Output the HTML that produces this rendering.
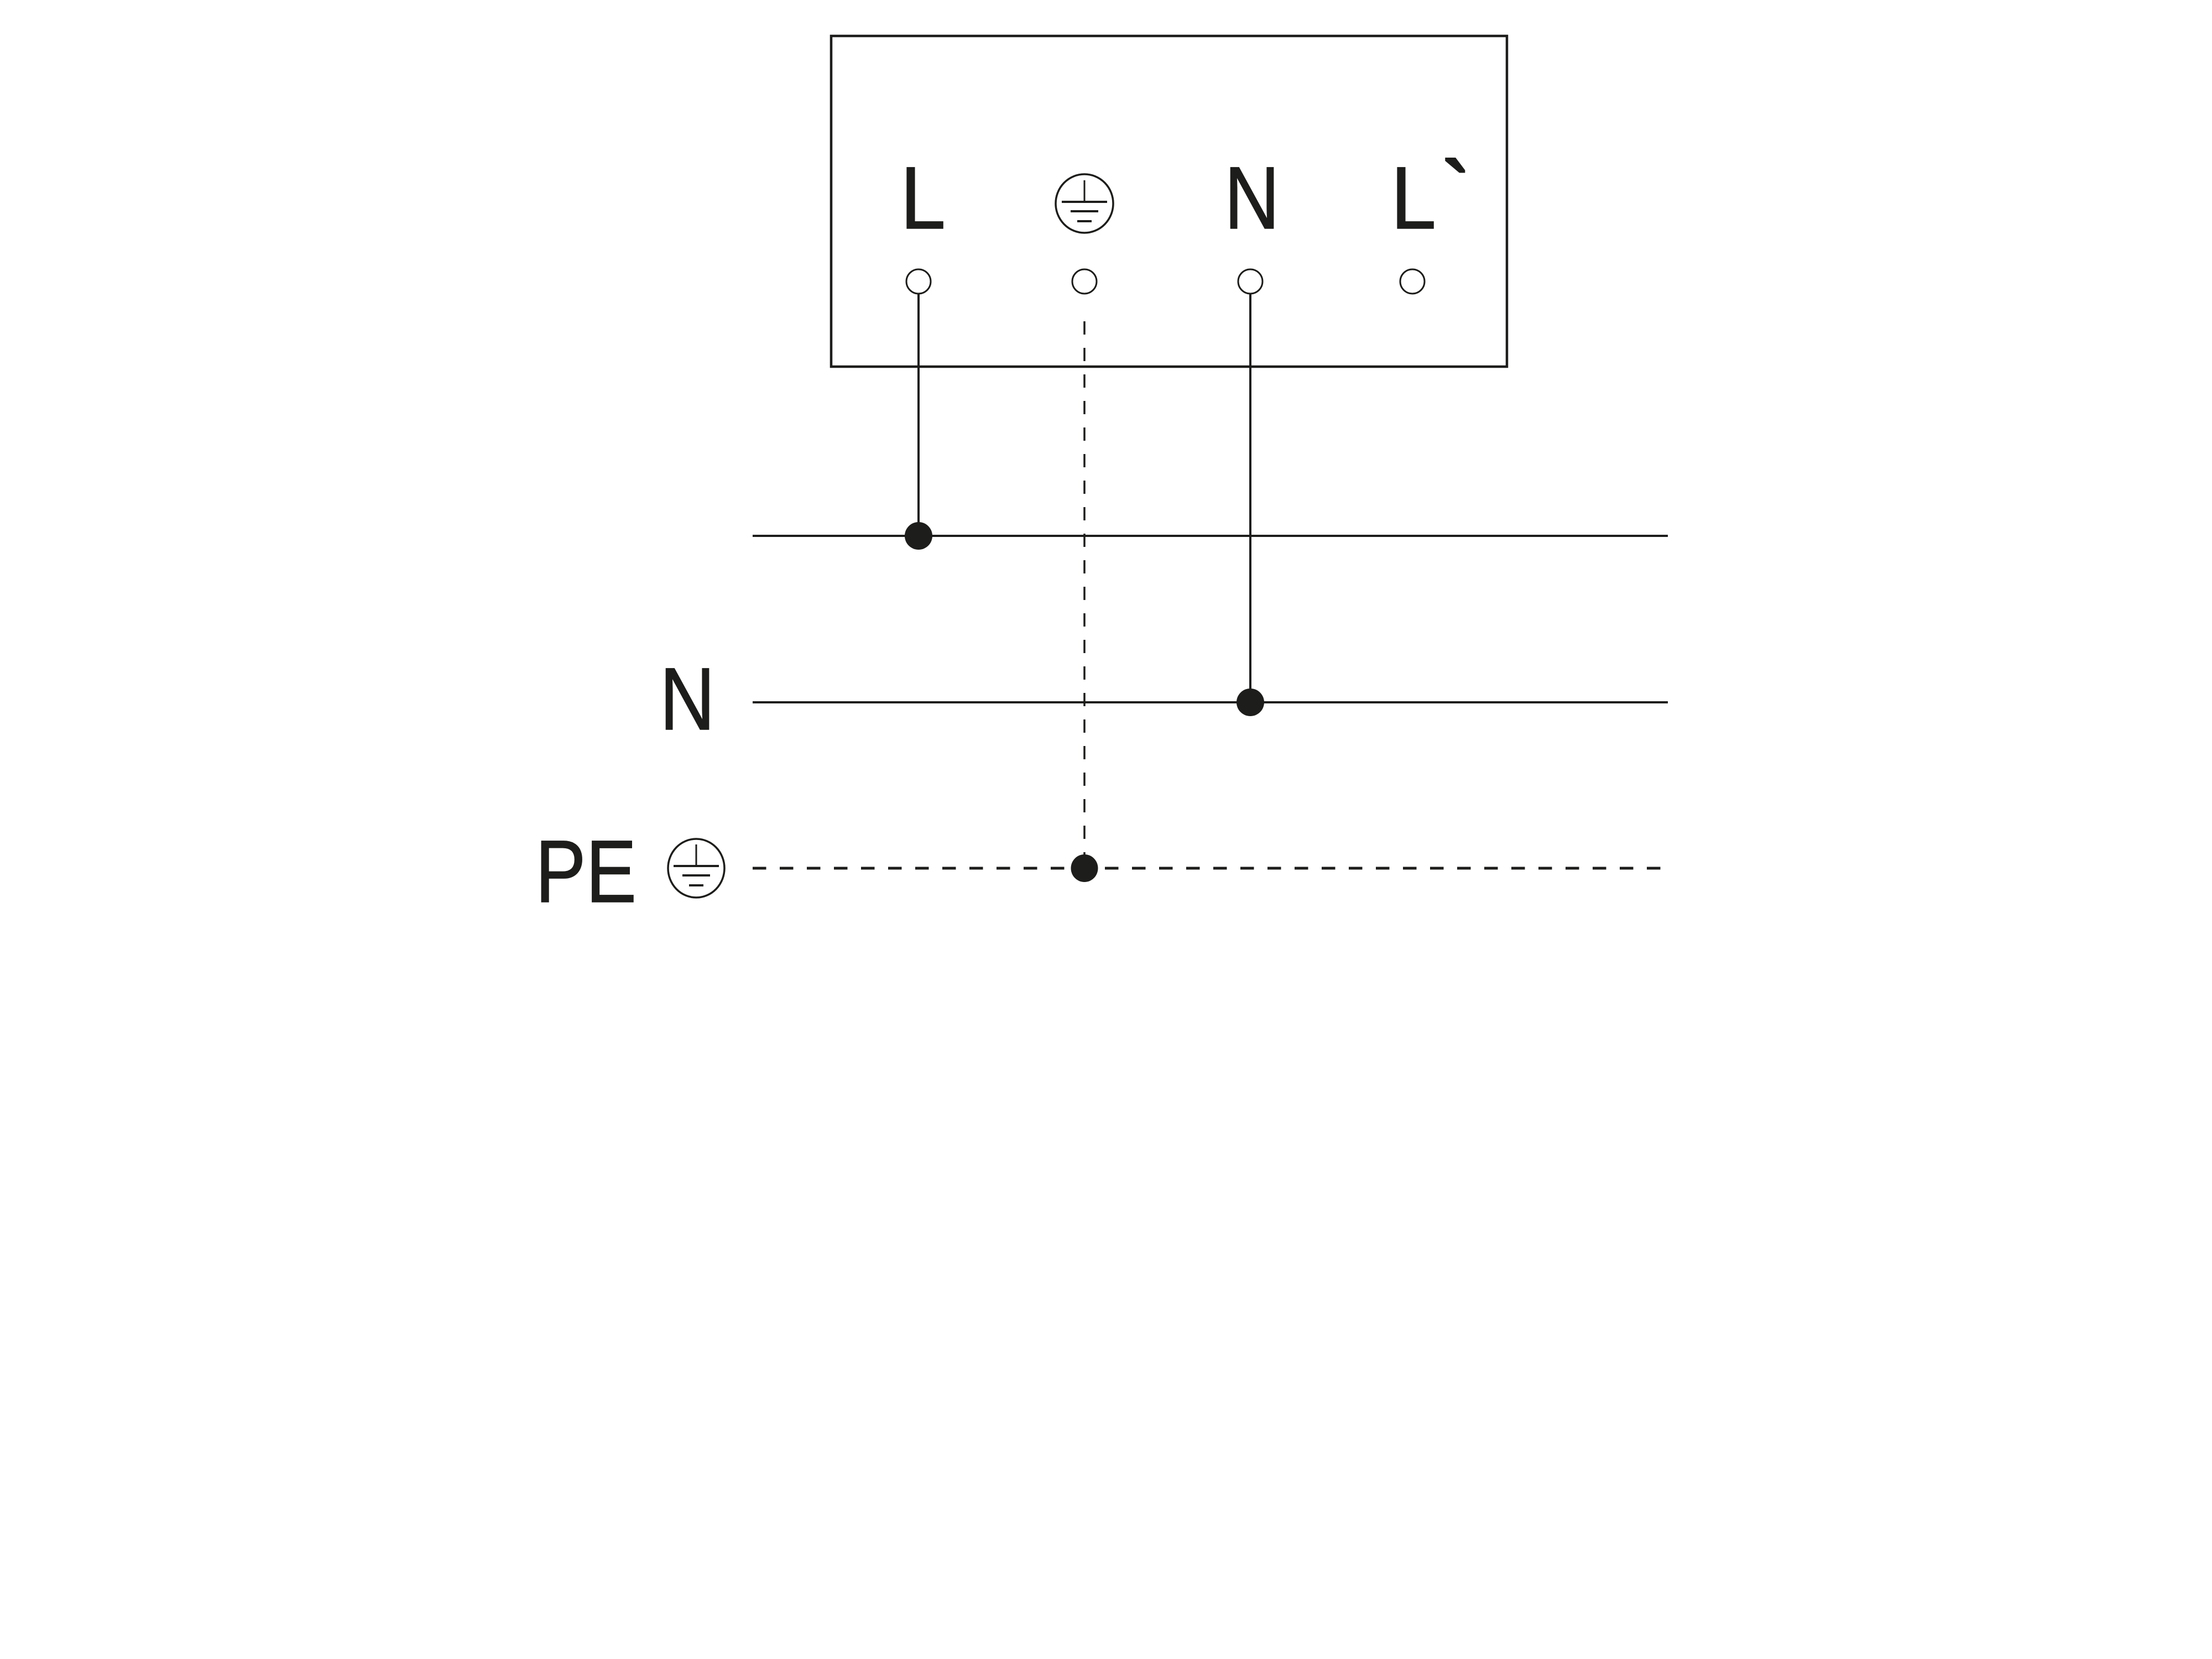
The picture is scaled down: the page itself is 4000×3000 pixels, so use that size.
<!DOCTYPE html>
<html><head><style>html,body{margin:0;padding:0;background:#fff;}svg{display:block}</style></head>
<body>
<svg width="4000" height="3000" viewBox="0 0 4000 3000" xmlns="http://www.w3.org/2000/svg">
<rect width="4000" height="3000" fill="#fff"/>
<g stroke="#1d1d1b" fill="none">
<rect x="1503" y="65" width="1222" height="598" stroke-width="4.5"/>
<line x1="1361" y1="969" x2="3016" y2="969" stroke-width="4"/>
<line x1="1361" y1="1270" x2="3016" y2="1270" stroke-width="4"/>
<line x1="1361" y1="1570" x2="3016" y2="1570" stroke-width="5" stroke-dasharray="24.5 24.5"/>
<line x1="1661" y1="532" x2="1661" y2="969" stroke-width="4"/>
<line x1="2261" y1="532" x2="2261" y2="1270" stroke-width="4"/>
<line x1="1961" y1="581" x2="1961" y2="1546" stroke-width="3.5" stroke-dasharray="24 24"/>
<circle cx="1661" cy="509" r="22" stroke-width="3" fill="#fff"/>
<circle cx="1961" cy="509" r="22" stroke-width="3" fill="#fff"/>
<circle cx="2261" cy="509" r="22" stroke-width="3" fill="#fff"/>
<circle cx="2554" cy="509" r="22" stroke-width="3" fill="#fff"/>
<ellipse cx="1961" cy="368" rx="52" ry="53" stroke-width="3.5"/>
<line x1="1961" y1="326" x2="1961" y2="365" stroke-width="3"/>
<line x1="1920" y1="365" x2="2002" y2="365" stroke-width="4"/>
<line x1="1936" y1="382" x2="1986" y2="382" stroke-width="4"/>
<line x1="1948" y1="400" x2="1974" y2="400" stroke-width="4"/>
<ellipse cx="1259" cy="1570" rx="51" ry="53" stroke-width="3.5"/>
<line x1="1259" y1="1527" x2="1259" y2="1566" stroke-width="3"/>
<line x1="1218" y1="1566" x2="1300" y2="1566" stroke-width="4"/>
<line x1="1234" y1="1583" x2="1284" y2="1583" stroke-width="4"/>
<line x1="1246" y1="1601" x2="1272" y2="1601" stroke-width="4"/>
</g>
<g fill="#1d1d1b">
<circle cx="1661" cy="969" r="25"/>
<circle cx="2261" cy="1270" r="25"/>
<ellipse cx="1961" cy="1570" rx="24.5" ry="25"/>
</g>
<g fill="#1d1d1b" stroke="#1d1d1b" stroke-width="1.5" font-family="'Liberation Sans', sans-serif" font-size="160">
<text x="1628" y="413" textLength="82" lengthAdjust="spacingAndGlyphs">L</text>
<text x="2214" y="413" textLength="100" lengthAdjust="spacingAndGlyphs">N</text>
<text x="2515" y="413" textLength="82" lengthAdjust="spacingAndGlyphs">L</text>
<text x="2608" y="398" font-size="150" stroke-width="5">`</text>
<text x="1193" y="1319" textLength="100" lengthAdjust="spacingAndGlyphs">N</text>
<text x="968" y="1631" textLength="183" lengthAdjust="spacingAndGlyphs">PE</text>
</g>
</svg>
</body></html>
